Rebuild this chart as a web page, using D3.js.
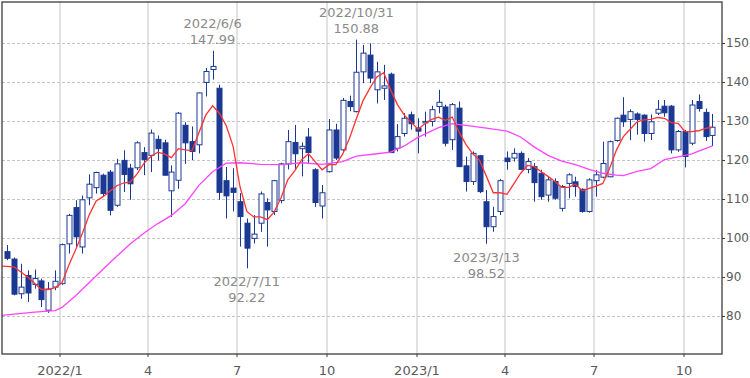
<!DOCTYPE html>
<html>
<head>
<meta charset="utf-8">
<script src="https://cdn.jsdelivr.net/npm/d3@7"></script>
<style>
  body { margin: 0; background: #fff; }
  svg { display: block; font-family: "DejaVu Sans", Verdana, sans-serif; }
  .grid-h { stroke: #c4c4c4; stroke-dasharray: 3 2; }
  .grid-v { stroke: #e2e2e2; stroke-width: 2; }
  .frame { fill: none; stroke: #3c3c3c; stroke-width: 1.3; }
  .tick-y, .tick-x { font-size: 12px; fill: #5a5a5a; }
  .tick-x { font-size: 13px; }
  .note { font-size: 13px; fill: #8a8a8a; }
  .wick { stroke: #1b3993; stroke-width: 1; }
  .body-up { fill: #fff; stroke: #1b3993; stroke-width: 1; }
  .body-down { fill: #1b3993; stroke: #1b3993; stroke-width: 1; }
  .ma-short { fill: none; stroke: #ff3333; stroke-width: 1.3; }
  .ma-long { fill: none; stroke: #ff44ff; stroke-width: 1.3; }
</style>
</head>
<body>
<div id="chart"></div>
<script>
// Weekly candles, first week starting Mon 2021-11-08.
const firstWeek = Date.UTC(2021, 10, 8);

const opens = [
  96.5, 94.6, 85.7, 90.4, 88.1, 89.0, 81.5, 87.4, 88.3, 98.5,
  107.8, 97.7, 110.3, 112.9, 116.1, 116.9, 108.4, 119.9, 117.9, 118.0,
  121.9, 121.2, 125.3, 124.4, 112.1, 114.8, 128.9, 124.7, 123.9, 139.9,
  143.2, 138.4, 114.7, 112.8, 109.3, 103.8, 99.9, 103.8, 109.1, 106.8,
  109.6, 119.0, 124.5, 122.9, 125.9, 117.5, 108.2, 117.0, 127.7, 122.6,
  135.0, 132.4, 142.6, 146.9, 138.0, 138.4, 142.0, 123.0, 126.8, 131.6,
  128.2, 129.6, 129.9, 133.7, 133.6, 125.2, 133.3, 118.5, 114.5, 121.1,
  109.3, 102.9, 106.8, 120.5, 120.5, 121.7, 117.6, 118.3, 116.6, 111.0,
  114.5, 107.6, 114.0, 114.4, 112.5, 106.8, 114.7, 115.6, 115.7, 125.0,
  131.5, 130.4, 131.8, 131.5, 126.8, 132.0, 133.8, 133.8, 122.6, 127.3,
  124.3, 135.0, 132.2, 126.3
];
const highs = [
  98.2, 95.0, 93.4, 91.7, 91.9, 89.6, 88.7, 91.7, 98.6, 106.2,
  109.7, 110.9, 116.3, 117.0, 116.5, 117.4, 120.3, 122.5, 119.0, 124.8,
  123.3, 127.8, 126.3, 125.2, 118.6, 132.3, 129.7, 128.6, 137.3, 143.6,
  147.99, 139.3, 118.2, 117.9, 111.5, 105.0, 105.9, 111.9, 110.2, 114.9,
  119.3, 127.7, 129.0, 124.5, 128.2, 117.9, 113.6, 130.5, 129.3, 135.9,
  136.5, 150.88, 149.5, 149.9, 145.2, 144.4, 142.4, 129.2, 132.0, 132.4,
  130.7, 132.4, 133.9, 138.0, 134.2, 134.6, 135.0, 120.9, 122.2, 121.3,
  112.3, 108.0, 115.1, 122.2, 123.0, 122.2, 120.5, 119.2, 117.5, 115.9,
  115.3, 113.6, 116.6, 115.7, 112.7, 115.3, 117.4, 124.7, 125.0, 130.9,
  136.1, 133.0, 132.2, 131.7, 131.7, 135.4, 135.4, 134.1, 127.7, 127.7,
  135.4, 136.8, 133.2, 131.8
];
const lows = [
  94.3, 85.3, 84.4, 83.6, 87.0, 82.3, 80.8, 86.6, 88.0, 96.0,
  97.7, 96.0, 108.4, 111.4, 110.5, 105.8, 108.0, 111.8, 109.8, 117.4,
  116.1, 116.9, 119.9, 116.0, 105.4, 112.6, 119.0, 120.0, 121.7, 136.3,
  140.6, 109.8, 105.0, 106.8, 97.8, 92.22, 98.6, 101.6, 97.8, 105.9,
  108.9, 117.6, 117.5, 115.8, 119.2, 108.0, 105.0, 116.8, 120.0, 122.2,
  132.5, 132.2, 139.7, 139.7, 134.5, 135.4, 121.8, 122.2, 126.0, 127.8,
  121.7, 126.0, 128.6, 132.0, 123.5, 122.6, 118.2, 111.9, 113.6, 111.5,
  98.52, 101.6, 105.9, 117.5, 119.6, 117.4, 116.6, 109.3, 109.8, 109.3,
  109.8, 106.8, 110.2, 110.6, 106.5, 106.5, 110.6, 115.3, 115.6, 124.7,
  128.5, 125.1, 126.5, 124.7, 125.1, 131.5, 131.1, 121.7, 122.1, 118.1,
  123.8, 132.4, 124.9, 123.6
];
const closes = [
  94.8, 85.6, 87.4, 85.9, 89.6, 84.2, 86.9, 88.9, 98.3, 105.8,
  100.3, 109.8, 113.8, 116.8, 111.4, 107.1, 119.0, 116.3, 113.9, 124.4,
  120.1, 126.9, 122.9, 116.1, 116.9, 132.0, 124.4, 122.2, 137.2, 142.7,
  144.0, 111.7, 110.8, 111.7, 105.5, 97.4, 101.0, 111.3, 107.2, 114.7,
  119.0, 124.7, 121.6, 123.5, 121.9, 109.1, 111.6, 127.7, 120.5, 135.3,
  133.7, 142.5, 147.4, 141.0, 142.6, 139.0, 121.9, 126.0, 130.7, 129.3,
  127.4, 129.9, 132.9, 134.8, 124.3, 134.2, 118.3, 114.5, 121.7, 111.9,
  102.9, 105.5, 114.7, 119.6, 121.7, 117.6, 119.6, 114.2, 110.6, 114.9,
  110.2, 113.2, 116.2, 113.2, 106.8, 114.9, 116.2, 119.1, 124.7, 130.7,
  129.8, 132.4, 130.4, 126.8, 129.8, 133.0, 132.1, 122.6, 127.3, 120.9,
  134.1, 133.2, 126.0, 128.4
];

// Moving averages: [week index, value].
const maShort = [
  [-1, 92.8], [0, 92.7], [1, 92.6], [2, 91.3], [3, 90.0], [4, 88.4], [5, 86.8], [6, 86.8],
  [7, 87.3], [8, 88.5], [9, 93.0], [10, 97.0], [11, 101.3], [12, 106.0], [13, 109.5],
  [14, 110.6], [15, 112.0], [16, 113.4], [17, 114.1], [18, 114.4], [19, 116.5], [20, 119.2],
  [21, 120.9], [22, 122.0], [23, 121.5], [24, 120.6], [25, 122.9], [26, 122.6], [27, 122.4],
  [28, 127.0], [29, 131.5], [30, 133.9], [31, 132.0], [32, 128.8], [33, 123.5], [34, 113.2],
  [35, 106.8], [36, 105.4], [37, 105.4], [38, 104.7], [39, 106.7], [40, 110.3], [41, 115.0],
  [42, 117.2], [43, 120.0], [44, 121.6], [45, 119.5], [46, 117.5], [47, 118.8], [48, 118.8],
  [49, 121.5], [50, 125.6], [51, 130.6], [52, 135.3], [53, 138.5], [54, 141.3], [55, 142.4],
  [56, 138.0], [57, 134.2], [58, 131.5], [59, 129.7], [60, 127.9], [61, 129.3], [62, 130.4],
  [63, 131.0], [64, 130.2], [65, 131.0], [66, 127.2], [67, 124.0], [68, 121.6], [69, 119.9],
  [70, 115.8], [71, 111.6], [72, 111.6], [73, 111.2], [74, 113.9], [75, 116.6], [76, 118.6],
  [77, 118.3], [78, 117.0], [79, 115.8], [80, 114.5], [81, 113.0], [82, 113.0], [83, 113.8],
  [84, 112.1], [85, 112.7], [86, 113.3], [87, 114.0], [88, 117.9], [89, 122.6], [90, 126.0],
  [91, 127.9], [92, 129.8], [93, 130.3], [94, 130.4], [95, 130.9], [96, 130.7], [97, 129.6],
  [98, 129.4], [99, 127.3], [100, 127.3], [101, 127.5], [102, 128.1], [103, 128.4]
];
const maLong = [
  [-1, 80.1], [1, 80.5], [4, 81.0], [7, 81.4], [8, 82.2], [10, 85.2], [12, 88.6], [14, 92.0],
  [16, 95.3], [18, 98.5], [20, 101.3], [22, 103.7], [24, 105.8], [26, 108.8], [28, 113.5],
  [30, 117.0], [32, 119.2], [34, 119.3], [37, 118.9], [40, 118.8], [43, 119.3], [46, 118.9],
  [49, 119.6], [51, 121.0], [54, 121.6], [56, 122.0], [58, 123.6], [60, 125.8], [63, 128.3],
  [65, 129.3], [67, 128.9], [70, 128.2], [73, 127.4], [75, 125.9], [77, 123.3], [79, 121.2],
  [81, 119.7], [83, 118.8], [85, 117.6], [87, 116.6], [89, 116.1], [90, 116.0], [92, 117.1],
  [94, 117.8], [96, 120.1], [98, 120.8], [100, 121.6], [103, 123.6]
];

const xTickDates = [
  Date.UTC(2022, 0, 1), Date.UTC(2022, 3, 1), Date.UTC(2022, 6, 1), Date.UTC(2022, 9, 1),
  Date.UTC(2023, 0, 1), Date.UTC(2023, 3, 1), Date.UTC(2023, 6, 1), Date.UTC(2023, 9, 1)
];
const xTickLabels = ["2022/1", "4", "7", "10", "2023/1", "4", "7", "10"];
const yTicks = [80, 90, 100, 110, 120, 130, 140, 150];

// Peak / trough call-outs.
const notes = [
  { i: 30, side: "high", date: "2022/6/6", value: "147.99" },
  { i: 35, side: "low", date: "2022/7/11", value: "92.22" },
  { i: 51, side: "high", date: "2022/10/31", value: "150.88" },
  { i: 70, side: "low", date: "2023/3/13", value: "98.52" }
];

const width = 750, height = 378;
const plot = { left: 2, top: 2, right: 722, bottom: 354 };
const weekDate = (i) => new Date(firstWeek + i * 7 * 864e5);

const x = d3.scaleUtc([Date.UTC(2022, 0, 1), Date.UTC(2023, 9, 1)], [60, 684]);
const y = d3.scaleLinear([80, 150], [316, 43]);

const svg = d3.select("#chart").append("svg")
  .attr("width", width).attr("height", height)
  .attr("viewBox", `0 0 ${width} ${height}`);

svg.append("defs").append("clipPath").attr("id", "plot-clip").append("rect")
  .attr("x", plot.left).attr("y", plot.top)
  .attr("width", plot.right - plot.left).attr("height", plot.bottom - plot.top);

// Grid.
svg.append("g").selectAll("line").data(xTickDates).join("line")
  .attr("class", "grid-v")
  .attr("x1", (d) => x(d)).attr("x2", (d) => x(d))
  .attr("y1", plot.top).attr("y2", plot.bottom);
svg.append("g").selectAll("line").data(yTicks).join("line")
  .attr("class", "grid-h")
  .attr("x1", plot.left).attr("x2", plot.right)
  .attr("y1", (d) => y(d) + 0.5).attr("y2", (d) => y(d) + 0.5);

const body = svg.append("g").attr("clip-path", "url(#plot-clip)");

// Moving averages sit under the candles.
const maLine = d3.line().x((d) => x(weekDate(d[0]))).y((d) => y(d[1]));
body.append("path").datum(maLong).attr("class", "ma-long").attr("d", maLine);
body.append("path").datum(maShort).attr("class", "ma-short").attr("d", maLine);

// Candles.
const idx = d3.range(opens.length);
const bw = 5;
const candles = body.append("g").selectAll("g").data(idx).join("g");
candles.append("line").attr("class", "wick")
  .attr("x1", (i) => Math.round(x(weekDate(i))) + 0.5)
  .attr("x2", (i) => Math.round(x(weekDate(i))) + 0.5)
  .attr("y1", (i) => y(highs[i])).attr("y2", (i) => y(lows[i]));
candles.append("rect")
  .attr("class", (i) => closes[i] >= opens[i] ? "body-up" : "body-down")
  .attr("x", (i) => Math.round(x(weekDate(i))) - bw / 2 + 0.5)
  .attr("width", bw)
  .attr("y", (i) => y(Math.max(opens[i], closes[i])))
  .attr("height", (i) => Math.max(1.5, Math.abs(y(opens[i]) - y(closes[i]))));

// Bring the moving averages above the candles as in the reference.
body.selectAll(".ma-long, .ma-short").raise();

// Frame and axes.
svg.append("rect").attr("class", "frame")
  .attr("x", plot.left).attr("y", plot.top)
  .attr("width", plot.right - plot.left).attr("height", plot.bottom - plot.top);

svg.append("g").selectAll("line").data(yTicks).join("line")
  .attr("stroke", "#3c3c3c")
  .attr("x1", plot.right).attr("x2", plot.right + 3)
  .attr("y1", (d) => y(d) + 0.5).attr("y2", (d) => y(d) + 0.5);
svg.append("g").selectAll("text").data(yTicks).join("text")
  .attr("class", "tick-y")
  .attr("x", plot.right + 4).attr("y", (d) => y(d)).attr("dy", "0.35em")
  .text((d) => d);

svg.append("g").selectAll("line").data(xTickDates).join("line")
  .attr("stroke", "#3c3c3c")
  .attr("x1", (d) => x(d)).attr("x2", (d) => x(d))
  .attr("y1", plot.bottom).attr("y2", plot.bottom + 3);
svg.append("g").selectAll("text").data(xTickDates).join("text")
  .attr("class", "tick-x")
  .attr("x", (d) => x(d)).attr("y", 370).attr("dy", "0.35em")
  .attr("text-anchor", "middle")
  .text((d, k) => xTickLabels[k]);

// Call-outs.
const noteG = svg.append("g").selectAll("g").data(notes).join("g")
  .attr("transform", (d) => {
    const cx = x(weekDate(d.i));
    const cy = d.side === "high" ? y(highs[d.i]) : y(lows[d.i]);
    return `translate(${cx},${cy})`;
  });
noteG.append("text").attr("class", "note").attr("text-anchor", "middle")
  .attr("y", (d) => d.side === "high" ? -23 : 18).text((d) => d.date);
noteG.append("text").attr("class", "note").attr("text-anchor", "middle")
  .attr("y", (d) => d.side === "high" ? -7 : 34).text((d) => d.value);
</script>
</body>
</html>
